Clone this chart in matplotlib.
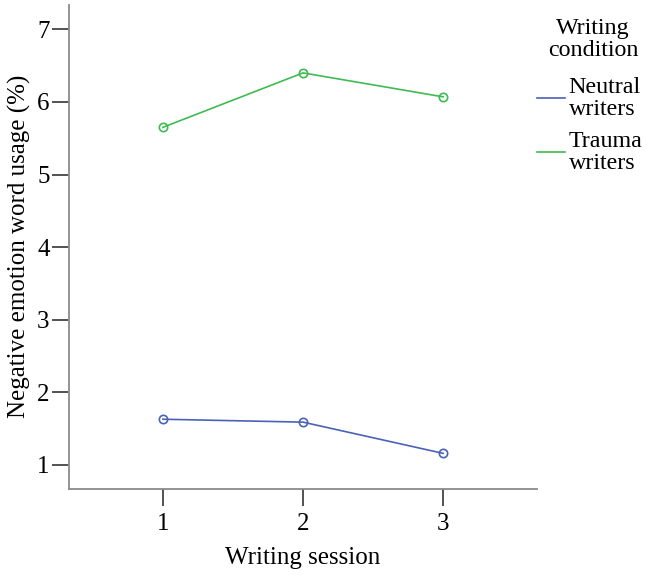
import matplotlib
matplotlib.use("Agg")
import matplotlib.pyplot as plt

sessions = [1, 2, 3]
neutral = [1.63, 1.59, 1.16]
trauma = [5.65, 6.40, 6.07]
series_labels = ["Neutral\nwriters", "Trauma\nwriters"]
legend_title = "Writing\ncondition"
colors = ["#4a62b8", "#3fbb52"]

plt.rcParams['font.family'] = ['Liberation Serif', 'DejaVu Serif']

W, H = 647, 575
fig = plt.figure(figsize=(W/100, H/100), dpi=100)
ax = fig.add_axes([69/W, 1-488.5/H, (537-69)/W, (488.5-5)/H])

for vals, lab, c in zip([neutral, trauma], series_labels, colors):
    ax.plot(sessions, vals, color=c, lw=1.2, marker='o', ms=6,
            mfc='none', mec=c, mew=1.2, label=lab)

ax.set_xlim(0.33, 3.67)
ax.set_ylim(0.676, 7.335)
ax.set_xticks(sessions)
ax.set_yticks([1, 2, 3, 4, 5, 6, 7])
for s in ['top', 'right']:
    ax.spines[s].set_visible(False)
for s in ['left', 'bottom']:
    ax.spines[s].set_color('#8a8a8a')
    ax.spines[s].set_linewidth(1.3)
ax.tick_params(axis='both', length=12, width=1.3, color='#444444',
               labelsize=18, pad=2)
ax.tick_params(axis='x', pad=6)
ax.set_xlabel("Writing session", fontsize=18, labelpad=8)
ax.set_ylabel("Negative emotion word usage (%)", fontsize=18, labelpad=4)

fig.text(593/W, 1-18/H, legend_title, ha='center', va='top',
         fontsize=17.3, linespacing=1.05)

leg = fig.legend(loc='upper left',
                 bbox_to_anchor=(535/W, 1-75/H), frameon=False,
                 fontsize=17.3, handlelength=1.15,
                 handletextpad=0.15, labelspacing=0.45, borderpad=0.1,
                 borderaxespad=0)
for h in leg.legend_handles:
    h.set_marker('')
for t in leg.get_texts():
    t.set_linespacing(1.05)

fig.savefig("out.png", dpi=100)
